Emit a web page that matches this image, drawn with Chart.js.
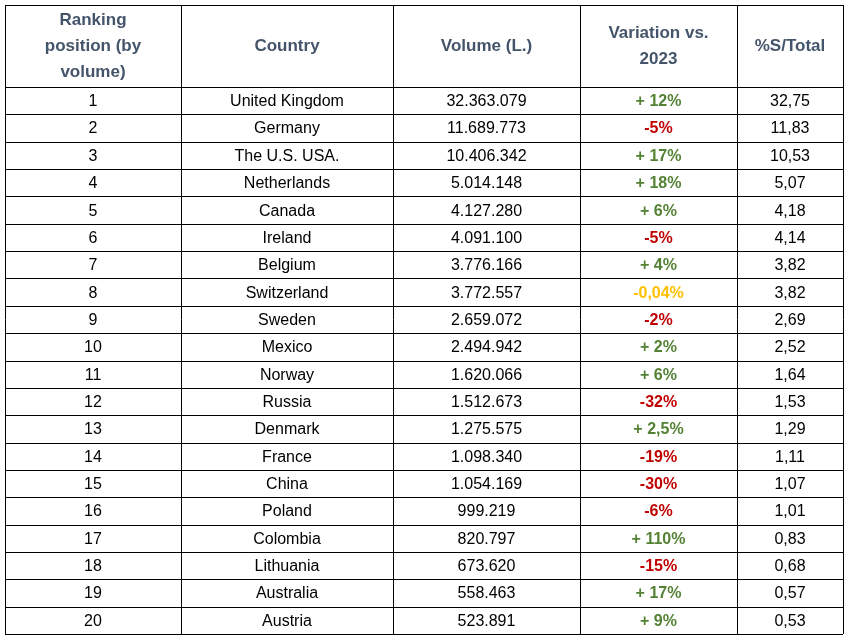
<!DOCTYPE html>
<html>
<head>
<meta charset="utf-8">
<script src="https://cdn.jsdelivr.net/npm/chart.js@4"></script>
<style>
  body { margin: 0; background: #fff; }
  #wrap { width: 848px; height: 641px; }
</style>
</head>
<body>
<div id="wrap"><canvas id="tabela"></canvas></div>
<script>
const headers = [['Ranking', 'position (by', 'volume)'], ['Country'], ['Volume (L.)'], ['Variation vs.', '2023'], ['%S/Total']];
const ranks = ['1','2','3','4','5','6','7','8','9','10','11','12','13','14','15','16','17','18','19','20'];
const countries = ['United Kingdom','Germany','The U.S. USA.','Netherlands','Canada','Ireland','Belgium','Switzerland','Sweden','Mexico','Norway','Russia','Denmark','France','China','Poland','Colombia','Lithuania','Australia','Austria'];
const volumes = ['32.363.079','11.689.773','10.406.342','5.014.148','4.127.280','4.091.100','3.776.166','3.772.557','2.659.072','2.494.942','1.620.066','1.512.673','1.275.575','1.098.340','1.054.169','999.219','820.797','673.620','558.463','523.891'];
const variations = ['+ 12%','-5%','+ 17%','+ 18%','+ 6%','-5%','+ 4%','-0,04%','-2%','+ 2%','+ 6%','-32%','+ 2,5%','-19%','-30%','-6%','+ 110%','-15%','+ 17%','+ 9%'];
const shares = ['32,75','11,83','10,53','5,07','4,18','4,14','3,82','3,82','2,69','2,52','1,64','1,53','1,29','1,11','1,07','1,01','0,83','0,68','0,57','0,53'];

// column edges in x-scale units (layout)
const colEdges = [0, 176, 388, 575, 732, 838];

function corVariacao(v) {
    if (v === '-0,04%') return '#FFC000';
    return v.trim().charAt(0) === '+' ? '#548235' : '#C00000';
}

const tabelaPlugin = {
    id: 'tabela',
    afterDraw: function (chart) {
        const ctx = chart.ctx;
        const x = chart.scales.x, y = chart.scales.y;
        const top = y.getPixelForValue(-3), bottom = y.getPixelForValue(20);
        const left = x.getPixelForValue(0), right = x.getPixelForValue(838);
        ctx.save();
        ctx.strokeStyle = '#000';
        ctx.lineWidth = 1;
        ctx.beginPath();
        colEdges.forEach(function (e) {
            const px = Math.round(x.getPixelForValue(e)) + 0.5;
            ctx.moveTo(px, top); ctx.lineTo(px, bottom);
        });
        ctx.moveTo(left, Math.round(top) + 0.5); ctx.lineTo(right, Math.round(top) + 0.5);
        for (let r = 0; r <= 20; r++) {
            const py = Math.round(y.getPixelForValue(r)) + 0.5;
            ctx.moveTo(left, py); ctx.lineTo(right, py);
        }
        ctx.stroke();

        ctx.textAlign = 'center';
        ctx.textBaseline = 'middle';
        // header
        ctx.font = 'bold 17px "Liberation Sans", Arial, sans-serif';
        ctx.fillStyle = '#44546A';
        headers.forEach(function (lines, c) {
            const cx = (x.getPixelForValue(colEdges[c]) + x.getPixelForValue(colEdges[c + 1])) / 2;
            const cy = y.getPixelForValue(-1.5);
            const lh = 26;
            lines.forEach(function (t, i) {
                ctx.fillText(t, cx, cy + (i - (lines.length - 1) / 2) * lh);
            });
        });
        // rows
        const cols = [ranks, countries, volumes, variations, shares];
        for (let r = 0; r < ranks.length; r++) {
            const cy = y.getPixelForValue(r + 0.5) + 1;
            cols.forEach(function (arr, c) {
                const cx = (x.getPixelForValue(colEdges[c]) + x.getPixelForValue(colEdges[c + 1])) / 2;
                if (c === 3) {
                    ctx.font = 'bold 16px "Liberation Sans", Arial, sans-serif';
                    ctx.fillStyle = corVariacao(arr[r]);
                } else {
                    ctx.font = '16px "Liberation Sans", Arial, sans-serif';
                    ctx.fillStyle = '#000';
                }
                ctx.fillText(arr[r], cx, cy);
            });
        }
        ctx.restore();
    }
};

const config = {
    type: 'scatter',
    data: { datasets: [{ data: [], pointRadius: 0 }] },
    options: {
        responsive: true,
        maintainAspectRatio: false,
        animation: false,
        layout: { padding: { top: 5, bottom: 7, left: 5, right: 5 } },
        plugins: { legend: { display: false }, tooltip: { enabled: false } },
        scales: {
            x: { type: 'linear', min: 0, max: 838, display: false },
            y: { type: 'linear', min: -3, max: 20, reverse: true, display: false }
        }
    },
    plugins: [tabelaPlugin]
};

const tabela = new Chart(document.getElementById('tabela'), config);
</script>
</body>
</html>
